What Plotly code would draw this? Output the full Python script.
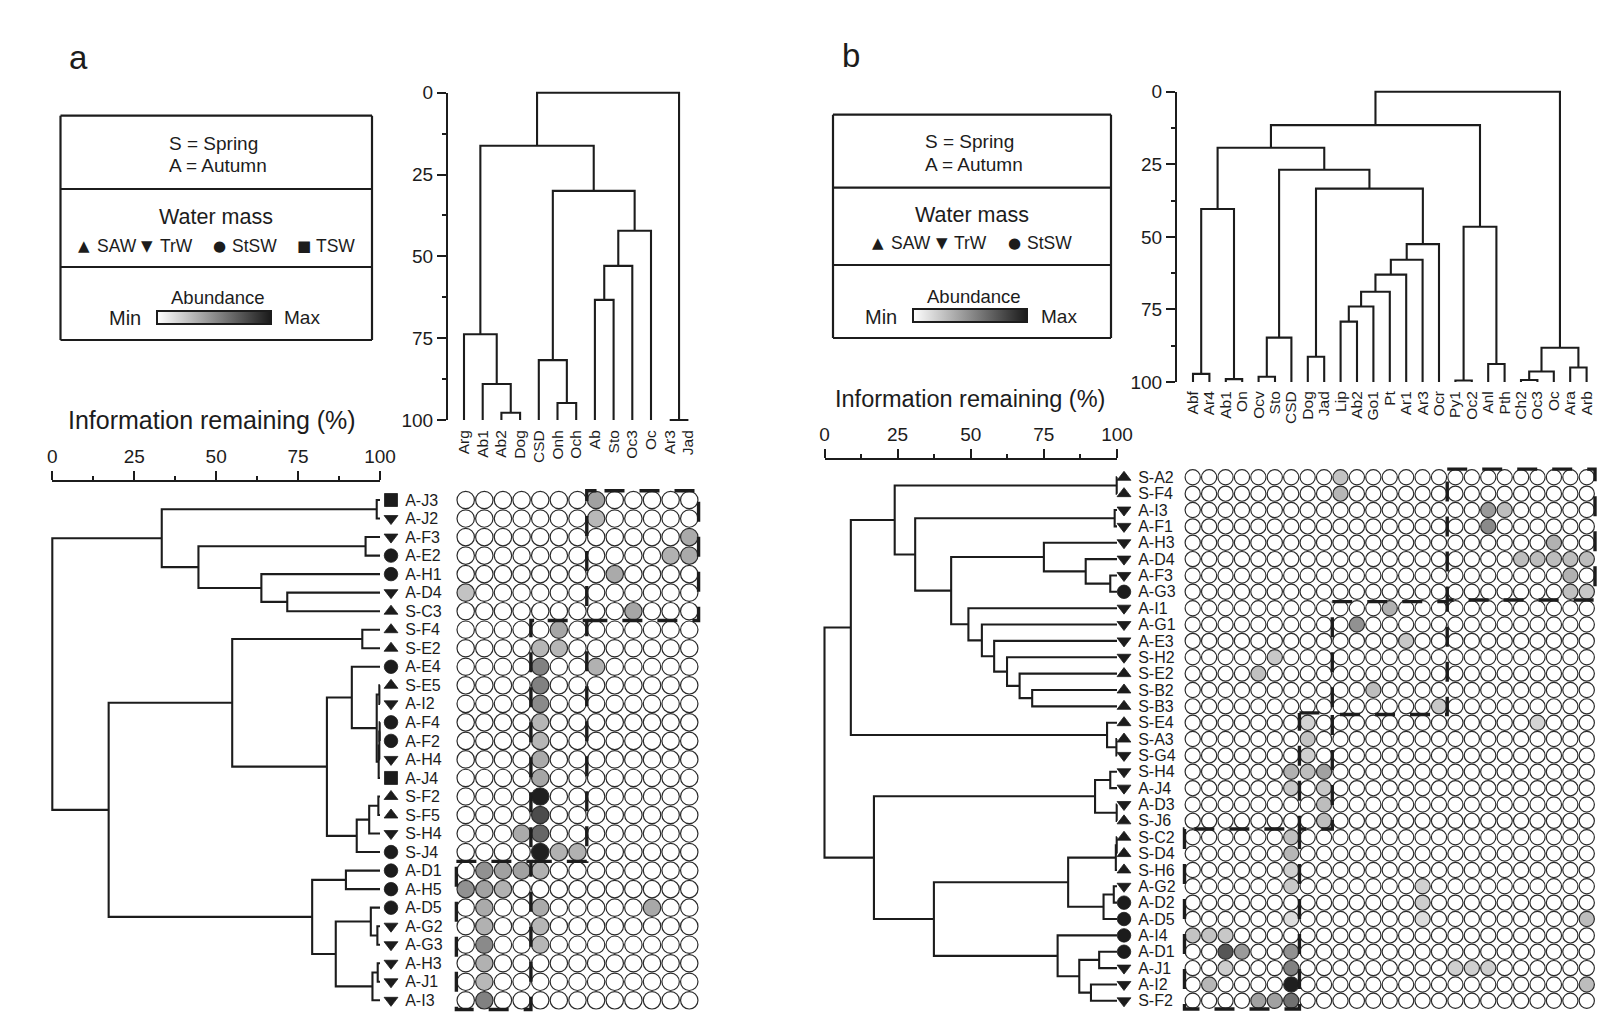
import plotly.graph_objects as go

W, H = 1615, 1023

# ---------- panel a data ----------
rows_a = ["A-J3","A-J2","A-F3","A-E2","A-H1","A-D4","S-C3","S-F4","S-E2","A-E4","S-E5","A-I2","A-F4","A-F2",
          "A-H4","A-J4","S-F2","S-F5","S-H4","S-J4","A-D1","A-H5","A-D5","A-G2","A-G3","A-H3","A-J1","A-I3"]
water_a = ["TSW","TrW","TrW","StSW","StSW","TrW","SAW","SAW","SAW","StSW","SAW","TrW","StSW","StSW",
           "TrW","TSW","SAW","SAW","TrW","StSW","StSW","StSW","StSW","TrW","TrW","TrW","TrW","TrW"]
taxa_a = ["Arg","Ab1","Ab2","Dog","CSD","Onh","Och","Ab","Sto","Oc3","Oc","Ar3","Jad"]
# (row, column, abundance)
cells_a = [(0,7,.41),(1,7,.31),(2,12,.37),(3,11,.34),(3,12,.37),(4,8,.37),(5,0,.26),(6,9,.39),(7,5,.39),(8,4,.32),
           (8,5,.32),(9,4,.55),(9,7,.34),(10,4,.55),(11,4,.51),(12,4,.32),(13,4,.32),(14,4,.37),(15,4,.39),
           (16,4,.98),(17,4,.78),(18,3,.37),(18,4,.67),(19,4,.98),(19,5,.34),(19,6,.34),(20,1,.48),(20,2,.41),
           (20,3,.41),(20,4,.34),(21,0,.48),(21,1,.41),(21,2,.34),(22,1,.37),(22,4,.37),(22,10,.38),(23,1,.34),
           (23,4,.32),(24,1,.51),(24,4,.32),(25,1,.34),(26,1,.31),(27,1,.55)]
# clusters are nested (height, left, right)
tree_rows_a = (0,
  (33.4, (99,"A-J3","A-J2"),
         (44.6, (95.6,"A-F3","A-E2"), (63.8,"A-H1",(71.7,"A-D4","S-C3")))),
  (17.2,
    (54.9, (94.6,"S-F4","S-E2"),
           (83.8, (91.4,"A-E4",(99.0,(99.8,"S-E5","A-I2"),(99.6,(99.8,(99.9,"A-F4","A-F2"),"A-H4"),"A-J4"))),
                  (92.9,(96.7,(99.5,"S-F2","S-F5"),"S-H4"),"S-J4"))),
    (79.3, (89.6,"A-D1","A-H5"),
           (86.5,(97.2,"A-D5",(99.2,"A-G2","A-G3")),(97.7,(99.3,"A-H3","A-J1"),"A-I3")))))
tree_taxa_a = (0,
  (16.2,
    (73.8,"Arg",(89,"Ab1",(97.8,"Ab2","Dog"))),
    (30,(81.7,"CSD",(94.8,"Onh","Och")),
        (42.2,(52.9,(63.3,"Ab","Sto"),"Oc3"),"Oc"))),
  (100,"Ar3","Jad"))
boxes_a = [(6.5,12.5,-0.5,6.5,7.45),(3.5,6.5,6.5,19.5,4.4),(-0.5,3.5,19.5,27.5,-0.5)]

# ---------- panel b data ----------
rows_b = ["S-A2","S-F4","A-I3","A-F1","A-H3","A-D4","A-F3","A-G3","A-I1","A-G1","A-E3","S-H2","S-E2","S-B2","S-B3",
          "S-E4","S-A3","S-G4","S-H4","A-J4","A-D3","S-J6","S-C2","S-D4","S-H6","A-G2","A-D2","A-D5","A-I4","A-D1",
          "A-J1","A-I2","S-F2"]
water_b = ["SAW","SAW","TrW","TrW","TrW","TrW","TrW","StSW","TrW","TrW","TrW","TrW","SAW","SAW","SAW",
           "SAW","SAW","TrW","TrW","TrW","TrW","SAW","SAW","SAW","SAW","TrW","StSW","StSW","StSW","StSW",
           "TrW","TrW","TrW"]
taxa_b = ["Abf","Ar4","Ab1","On","Ocv","Sto","CSD","Dog","Jad","Lip","Ab2","Go1","Pt","Ar1","Ar3","Ocr","Py1","Oc2",
          "Anl","Pth","Ch2","Oc3","Oc","Ara","Arb"]
cells_b = [(0,9,.26),(1,9,.32),(2,18,.44),(2,19,.29),(3,18,.51),(4,22,.34),(5,20,.29),(5,21,.29),(5,22,.29),(5,23,.29),
           (5,24,.29),(6,23,.34),(7,23,.275),(7,24,.24),(8,12,.34),(9,10,.48),(10,13,.24),(11,5,.24),(12,4,.275),
           (13,11,.29),(14,15,.24),(15,7,.19),(15,21,.19),(16,7,.26),(17,7,.205),(18,6,.34),(18,7,.29),(18,8,.41),
           (19,6,.24),(19,8,.24),(20,8,.29),(21,8,.29),(22,6,.275),(23,6,.32),(24,6,.205),(25,6,.24),(25,14,.205),
           (26,14,.22),(27,6,.15),(27,14,.15),(27,24,.29),(28,0,.26),(28,1,.26),(28,2,.24),(29,2,.74),(29,3,.44),
           (29,6,.48),(30,2,.22),(30,6,.55),(30,16,.21),(30,17,.21),(30,18,.21),(31,1,.32),(31,6,.98),(31,24,.29),
           (32,4,.41),(32,5,.41),(32,6,.62)]
tree_rows_b = (0,
  (9,
    (24,(99.9,"S-A2","S-F4"),
        (31,(99.2,"A-I3","A-F1"),
            (43.3,(75,"A-H3",(89.3,"A-D4",(97.7,"A-F3","A-G3"))),
                  (49.2,"A-I1",(53.8,"A-G1",(58,"A-E3",(62.4,"S-H2",(66.7,"S-E2",(71,"S-B2","S-B3")))))))),),
    (96.6,"S-E4",(99.8,"S-A3","S-G4"))),
  (16.9,
    (92.5,(97.7,"S-H4","A-J4"),(99.9,"A-D3","S-J6")),
    (37.4,
      (83.3,(99.6,(99.9,"S-C2","S-D4"),"S-H6"),(95.4,(98.9,"A-G2","A-D2"),"A-D5")),
      (79.7,"A-I4",(87.1,(93.9,"A-D1","A-J1"),(91.1,"A-I2","S-F2"))))))
tree_taxa_b = (0,
  (11.5,
    (19.3,
      (40.4,(97.2,"Abf","Ar4"),(99,"Ab1","On")),
      (26.9,
        (84.7,(98.2,"Ocv","Sto"),"CSD"),
        (33.4,(91.3,"Dog","Jad"),
              (52.5,(57.9,(63,(68.9,(74,(79.2,"Lip","Ab2"),"Go1"),"Pt"),"Ar1"),"Ar3"),"Ocr")))),
    (46.5,(99.5,"Py1","Oc2"),(93.8,"Anl","Pth"))),
  (88.2,(96.4,(99.3,"Ch2","Oc3"),"Oc"),(95,"Ara","Arb")))
boxes_b = [(15.5,24.5,-0.5,7.5,15.5),(8.5,15.5,7.6,14.5,8.5),(6.5,8.5,14.4,21.5,6.5),(-0.5,6.5,21.5,32.5,0.1)]

SYMBOL = {"SAW":"triangle-up","TrW":"triangle-down","StSW":"circle","TSW":"square"}
SYMSIZE = {"SAW":12,"TrW":12,"StSW":13.5,"TSW":13}
INK = "#1c1c1c"
FONT = "Liberation Sans, Arial, sans-serif"
VALS = [0,25,50,75,100]
MINOR = [12.5,37.5,62.5,87.5]
GREY = [[0,"#ffffff"],[1,"#1a1a1a"]]
PAD = 0.4   # spare room round the matrix so that edge lines are not cut

def fx(p): return p/W
def fy(p): return 1-p/H

def walk(node, order, segs):
    if isinstance(node, str):
        return order.index(node), 100
    h, l, r = node
    pl, hl = walk(l, order, segs)
    pr, hr = walk(r, order, segs)
    segs.append(((pl,hl),(pl,h),(pr,h),(pr,hr)))
    return (pl+pr)/2, h

def tree_xy(tree, order):
    segs=[]; walk(tree, order, segs)
    a=[];b=[]
    for s in segs:
        a += [p[0] for p in s]+[None]
        b += [p[1] for p in s]+[None]
    return a,b

fig = go.Figure()
layout = {}
annos = []
shapes = []

def panel(i, rows, water, taxa, cells, tree_rows, tree_taxa, boxes, g):
    xl,xs,xm,xt,xd = f"x{i}1",f"x{i}2",f"x{i}3",f"x{i}4",f"x{i}5"
    yr,yt,yd = f"y{i}1",f"y{i}2",f"y{i}3"
    L = lambda n: n[0]+"axis"+n[1:]
    nr,nc = len(rows),len(taxa)
    y0 = g["row0"]-g["dy"]*(.5+PAD); y1 = g["row0"]+g["dy"]*(nr-.5+PAD)
    x0 = g["col0"]-g["dx"]*(.5+PAD); x1 = g["col0"]+g["dx"]*(nc-.5+PAD)
    tickfont = dict(family=FONT,size=g["tick"],color=INK)
    layout[L(yr)] = dict(domain=[fy(y1),fy(y0)],range=[nr-.5+PAD,-.5-PAD],anchor="free",position=fx(g["name_x"]),side="right",
                         showline=False,showgrid=False,zeroline=False,
                         tickmode="array",tickvals=list(range(nr)),ticktext=rows,ticks="outside",ticklen=2,
                         tickcolor="rgba(0,0,0,0)",tickfont=dict(family=FONT,size=g["name"],color=INK))
    layout[L(xl)] = dict(domain=[fx(g["info0"]),fx(g["info1"])],range=[0,100],anchor="free",position=fy(g["info_y"]),
                         side="top",showline=True,linecolor=INK,linewidth=2,showgrid=False,zeroline=False,
                         tickmode="array",tickvals=VALS,ticktext=[str(v) for v in VALS],ticks="outside",ticklen=9,
                         tickwidth=2,tickcolor=INK,tickfont=tickfont,
                         minor=dict(tickmode="array",tickvals=MINOR,ticks="outside",ticklen=4,tickwidth=2,tickcolor=INK,showgrid=False))
    k = (g["info1"]-g["info0"])/100
    layout[L(xd)] = dict(domain=[fx(g["info0"]-4),fx(g["info1"]+4)],range=[-4/k,100+4/k],visible=False,anchor=yr)
    layout[L(xs)] = dict(domain=[fx(g["sym_x"]-6),fx(g["sym_x"]+6)],range=[0,1],visible=False,anchor=yr)
    layout[L(xm)] = dict(domain=[fx(x0),fx(x1)],range=[-.5-PAD,nc-.5+PAD],visible=False,anchor=yr)
    layout[L(xt)] = dict(domain=[fx(g["leaf0"]-g["leafdx"]/2),fx(g["leaf0"]+g["leafdx"]*(nc-.5))],range=[-.5,nc-.5],anchor=yt,
                         showline=False,showgrid=False,zeroline=False,tickmode="array",tickvals=list(range(nc)),ticktext=taxa,
                         tickangle=-90,ticks="outside",ticklen=g["taxa_gap"],tickcolor="rgba(0,0,0,0)",
                         tickfont=dict(family=FONT,size=g["taxa"],color=INK))
    layout[L(yt)] = dict(domain=[fy(g["t100"]),fy(g["t0"])],range=[100,0],anchor="free",position=fx(g["t_axis"]),
                         showline=True,linecolor=INK,linewidth=2,showgrid=False,zeroline=False,
                         tickmode="array",tickvals=VALS,ticktext=[str(v) for v in VALS],ticks="outside",ticklen=9,tickwidth=2,
                         tickcolor=INK,tickfont=tickfont,
                         minor=dict(tickmode="array",tickvals=MINOR,ticks="outside",ticklen=4,tickwidth=2,tickcolor=INK,showgrid=False))
    kt = (g["t100"]-g["t0"])/100
    layout[L(yd)] = dict(domain=[fy(g["t100"]+4),fy(g["t0"]-4)],range=[100+4/kt,-4/kt],visible=False,anchor=xt)
    # empty traces keep the two printed axes on the page
    fig.add_trace(go.Scatter(x=[None],y=[None],xaxis=xl,yaxis=yr,showlegend=False,hoverinfo="skip"))
    fig.add_trace(go.Scatter(x=[None],y=[None],xaxis=xt,yaxis=yt,showlegend=False,hoverinfo="skip"))
    # sample dendrogram
    p,h = tree_xy(tree_rows, rows)
    fig.add_trace(go.Scatter(x=h,y=p,xaxis=xd,yaxis=yr,mode="lines",line=dict(color=INK,width=2.1),
                             hoverinfo="skip",showlegend=False))
    # taxa dendrogram
    p,h = tree_xy(tree_taxa, taxa)
    fig.add_trace(go.Scatter(x=p,y=h,xaxis=xt,yaxis=yd,mode="lines",line=dict(color=INK,width=2.1),cliponaxis=False,
                             hoverinfo="skip",showlegend=False))
    # water-mass symbols
    fig.add_trace(go.Scatter(x=[.5]*nr,y=list(range(nr)),xaxis=xs,yaxis=yr,mode="markers",cliponaxis=False,showlegend=False,
                             marker=dict(symbol=[SYMBOL[w] for w in water],size=[SYMSIZE[w] for w in water],color=INK,opacity=1,
                                         line=dict(color=INK,width=.8)),hoverinfo="skip"))
    # abundance matrix
    val = {(r,c):v for r,c,v in cells}
    cx=[];cy=[];cv=[]
    for r in range(nr):
        for c in range(nc):
            cx.append(c);cy.append(r);cv.append(val.get((r,c),0))
    fig.add_trace(go.Scatter(x=cx,y=cy,xaxis=xm,yaxis=yr,mode="markers",cliponaxis=False,showlegend=False,
        marker=dict(symbol="circle",size=g["cell"],color=cv,colorscale=GREY,cmin=0,cmax=1,opacity=1,line=dict(color="#2b2b2b",width=1.2),
                    showscale=True,
                    colorbar=dict(orientation="h",x=fx(g["bar"][0]),xanchor="left",y=fy(g["bar"][3]),yanchor="bottom",
                                  lenmode="pixels",len=g["bar"][1]-g["bar"][0],thicknessmode="pixels",
                                  thickness=g["bar"][3]-g["bar"][2],xpad=0,ypad=0,outlinecolor=INK,outlinewidth=2,
                                  showticklabels=False,ticks="",borderwidth=0))))
    # dashed cluster boxes
    for c0,c1,r0,r1,start in boxes:
        bx=[start,c1,c1,c0,c0,start]; by=[r0,r0,r1,r1,r0,r0]
        fig.add_trace(go.Scatter(x=bx,y=by,xaxis=xm,yaxis=yr,mode="lines",cliponaxis=False,showlegend=False,hoverinfo="skip",
                                 line=dict(color=INK,width=3.4,dash="20px,15px")))

    # legend box
    bx0,bx1,by0,by1 = g["box"]
    for yy in [by0,*g["div"],by1]:
        shapes.append(dict(type="line",xref="paper",yref="paper",x0=fx(bx0),x1=fx(bx1),y0=fy(yy),y1=fy(yy),line=dict(color=INK,width=2.2)))
    for xx in (bx0,bx1):
        shapes.append(dict(type="line",xref="paper",yref="paper",x0=fx(xx),x1=fx(xx),y0=fy(by0),y1=fy(by1),line=dict(color=INK,width=2.2)))
    def T(t,x,y,size,anchor="center",fam=FONT):
        annos.append(dict(text=t,x=fx(x),y=fy(y),xref="paper",yref="paper",showarrow=False,xanchor=anchor,yanchor="middle",
                          font=dict(family=fam,size=size,color=INK)))
    T(g["letter"][0],g["letter"][1],g["letter"][2],33)
    T("S = Spring",g["spring"][0],g["spring"][1],19)
    T("A = Autumn",g["autumn"][0],g["autumn"][1],19)
    T("Water mass",g["wm"][0],g["wm"][1],21.5)
    for ch,sx,tx,name in g["wm_row"]:
        T(ch,sx,g["wm_y"],15,fam="DejaVu Sans")
        T(name,tx,g["wm_y"],17.5,"left")
    T("Abundance",g["ab"][0],g["ab"][1],18.5)
    T("Min",g["min"][0],g["min"][1],20,"right")
    T("Max",g["max"][0],g["max"][1],19,"left")
    T("Information remaining (%)",g["info_t"][0],g["info_t"][1],g["info_size"])

geo_a = dict(row0=500,dy=18.53,col0=465.7,dx=18.63,name_x=399,sym_x=391,info0=52.3,info1=380,info_y=481,
             leaf0=464,leafdx=18.7,t0=92.7,t100=420,t_axis=447,tick=19,name=16,taxa=15.5,taxa_gap=3,cell=17.4,
             bar=(157,271,313,326),box=(60.5,372,115.7,340),div=(189,267),letter=("a",78,58),spring=(213,143),autumn=(218,166),
             wm=(216,217),wm_y=246,wm_row=[("▲",84,95,"SAW"),("▼",147,158,"TrW"),("●",219,230,"StSW"),("■",304,314,"TSW")],
             ab=(218,298),min=(143,318),max=(282,318),info_t=(212,420),info_size=25)
geo_b = dict(row0=477.3,dy=16.36,col0=1192.7,dx=16.42,name_x=1132,sym_x=1124,info0=824.5,info1=1117,info_y=459,
             leaf0=1193,leafdx=16.4,t0=91.7,t100=382,t_axis=1176,tick=19,name=16,taxa=15.5,taxa_gap=2,cell=15.2,
             bar=(913,1027,311,324),box=(833,1111,114.7,338),div=(187.7,265),letter=("b",851,56),spring=(969,141),autumn=(974,165),
             wm=(972,215),wm_y=243,wm_row=[("▲",878,889,"SAW"),("▼",942,952,"TrW"),("●",1014,1025,"StSW")],
             ab=(974,297),min=(899,317),max=(1039,317),info_t=(970,399),info_size=23.5)

panel("1",rows_a,water_a,taxa_a,cells_a,tree_rows_a,tree_taxa_a,boxes_a,geo_a)
panel("2",rows_b,water_b,taxa_b,cells_b,tree_rows_b,tree_taxa_b,boxes_b,geo_b)

fig.update_layout(width=W,height=H,margin=dict(l=0,r=0,t=0,b=0,pad=0,autoexpand=False),paper_bgcolor="white",plot_bgcolor="rgba(0,0,0,0)",
                  showlegend=False,annotations=annos,shapes=shapes,**layout)
fig.write_html("out.html",config={"displayModeBar":False},
               post_script="document.body.style.margin='0';document.documentElement.style.overflow='hidden';")
